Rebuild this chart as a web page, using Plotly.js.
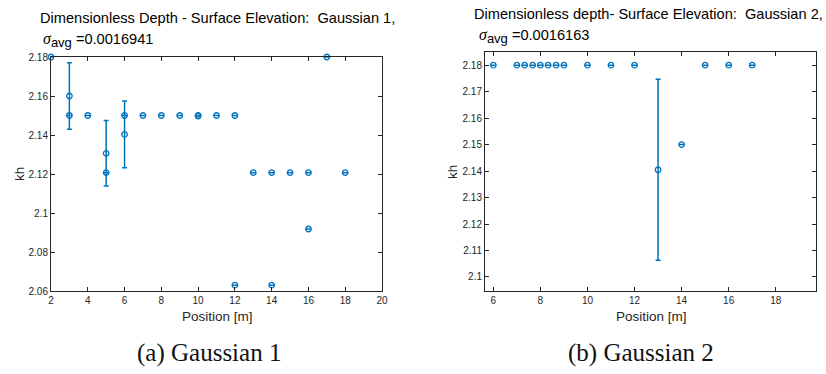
<!DOCTYPE html>
<html>
<head>
<meta charset="utf-8">
<script src="https://cdn.plot.ly/plotly-3.0.1.min.js"></script>
<style>
  html, body { margin: 0; padding: 0; background: #ffffff; }
  #chart { width: 826px; height: 374px; }
</style>
</head>
<body>
<div id="chart"></div>
<script>
// Gaussian 1: kh estimates per gauge position, with standard deviation
const g1Position = [2, 3, 3, 4, 5, 5, 6, 6, 7, 8, 9, 10, 10, 11, 12, 12, 13, 14, 14, 15, 16, 16, 17, 18];
const g1Kh = [2.18, 2.15, 2.16, 2.15, 2.1207, 2.1306, 2.15, 2.1403, 2.15, 2.15, 2.15, 2.15, 2.1497, 2.15, 2.15, 2.063,
              2.1207, 2.1207, 2.063, 2.1207, 2.1207, 2.0918, 2.18, 2.1207];
const g1Std = [0, 0, 0.0171, 0, 0, 0.0168, 0, 0.0171, 0, 0, 0, 0, 0, 0, 0, 0,
               0, 0, 0, 0, 0, 0, 0, 0];
const g1Sigma = "0.0016941";

// Gaussian 2
const g2Position = [6, 7, 7.33, 7.67, 8, 8.33, 8.67, 9, 10, 11, 12, 13, 14, 15, 16, 17];
const g2Kh = [2.18, 2.18, 2.18, 2.18, 2.18, 2.18, 2.18, 2.18, 2.18, 2.18, 2.18, 2.1405, 2.15, 2.18, 2.18, 2.18];
const g2Std = [0, 0, 0, 0, 0, 0, 0, 0, 0, 0, 0, 0.0342, 0, 0, 0, 0];
const g2Sigma = "0.0016163";

const W = 826, H = 374;
const blue = "#0072BD";
const ink = "#262626";
const sans = "Liberation Sans, Arial, Helvetica, sans-serif";
const serif = "Liberation Serif, DejaVu Serif, serif";

// pixel helpers for paper coordinates
const px = v => v / W;
const py = v => 1 - v / H;

function series(x, y, e, xa, ya) {
  return {
    type: "scatter", mode: "markers",
    x: x, y: y, xaxis: xa, yaxis: ya,
    cliponaxis: false,
    marker: { symbol: "circle-open", size: 5.5, color: blue, line: { width: 1.3, color: blue } },
    error_y: { type: "data", array: e, visible: true, color: blue, thickness: 1.5, width: 2.5 },
    showlegend: false, hoverinfo: "x+y"
  };
}

function axis(extra) {
  return Object.assign({
    showline: true, linecolor: ink, linewidth: 1, mirror: "ticks",
    ticks: "inside", ticklen: 4, tickwidth: 1, tickcolor: ink,
    showgrid: false, zeroline: false,
    tickfont: { family: sans, size: 10, color: ink },
    fixedrange: true
  }, extra);
}

// sigma_avg line of a title: serif italic sigma, lowered "avg" subscript
function sigmaLine(value) {
  return '<span style="font-family:Liberation Serif, serif;font-size:16px"><i>σ</i></span>' +
         '<sub><span style="font-size:13px">avg</span></sub> =' + value;
}

const data = [
  series(g1Position, g1Kh, g1Std, "x", "y"),
  series(g2Position, g2Kh, g2Std, "x2", "y2")
];

const titleFont = { family: sans, size: 14.6, color: "#000" };
const labelFont = { family: sans, size: 13.5, color: ink };
const capFont = { family: serif, size: 25, color: "#111" };

const layout = {
  width: W, height: H,
  margin: { l: 0, r: 0, t: 0, b: 0 },
  paper_bgcolor: "#ffffff", plot_bgcolor: "#ffffff",
  xaxis: axis({ domain: [px(51), px(382)], range: [2, 20], tick0: 2, dtick: 2, anchor: "y" }),
  yaxis: axis({ domain: [py(291), py(57)], range: [2.06, 2.18], tick0: 2.06, dtick: 0.02, anchor: "x" }),
  xaxis2: axis({ domain: [px(485), px(816)], range: [5.647, 19.71], tick0: 6, dtick: 2, anchor: "y2" }),
  yaxis2: axis({ domain: [py(290.7), py(51.7)], range: [2.0948, 2.1851], tick0: 2.1, dtick: 0.01, anchor: "x2" }),
  annotations: [
    // titles
    { text: "Dimensionless Depth - Surface Elevation:  Gaussian 1,", xref: "paper", yref: "paper",
      x: px(38), y: py(18), xanchor: "left", yanchor: "middle", showarrow: false, font: titleFont },
    { text: sigmaLine(g1Sigma), xref: "paper", yref: "paper",
      x: px(41), y: py(40), xanchor: "left", yanchor: "middle", showarrow: false, font: titleFont },
    { text: "Dimensionless depth- Surface Elevation:  Gaussian 2,", xref: "paper", yref: "paper",
      x: px(472), y: py(14), xanchor: "left", yanchor: "middle", showarrow: false, font: titleFont },
    { text: sigmaLine(g2Sigma), xref: "paper", yref: "paper",
      x: px(477), y: py(36), xanchor: "left", yanchor: "middle", showarrow: false, font: titleFont },
    // axis labels
    { text: "kh", xref: "paper", yref: "paper", x: px(19), y: py(174), textangle: -90,
      xanchor: "center", yanchor: "middle", showarrow: false, font: labelFont },
    { text: "kh", xref: "paper", yref: "paper", x: px(452), y: py(172), textangle: -90,
      xanchor: "center", yanchor: "middle", showarrow: false, font: labelFont },
    { text: "Position [m]", xref: "paper", yref: "paper", x: px(217), y: py(316),
      xanchor: "center", yanchor: "middle", showarrow: false, font: labelFont },
    { text: "Position [m]", xref: "paper", yref: "paper", x: px(651), y: py(316),
      xanchor: "center", yanchor: "middle", showarrow: false, font: labelFont },
    // captions
    { text: "(a) Gaussian 1", xref: "paper", yref: "paper", x: px(209), y: py(353),
      xanchor: "center", yanchor: "middle", showarrow: false, font: capFont },
    { text: "(b) Gaussian 2", xref: "paper", yref: "paper", x: px(641), y: py(353),
      xanchor: "center", yanchor: "middle", showarrow: false, font: capFont }
  ]
};

Plotly.newPlot("chart", data, layout, { displayModeBar: false, staticPlot: true });
</script>
</body>
</html>
